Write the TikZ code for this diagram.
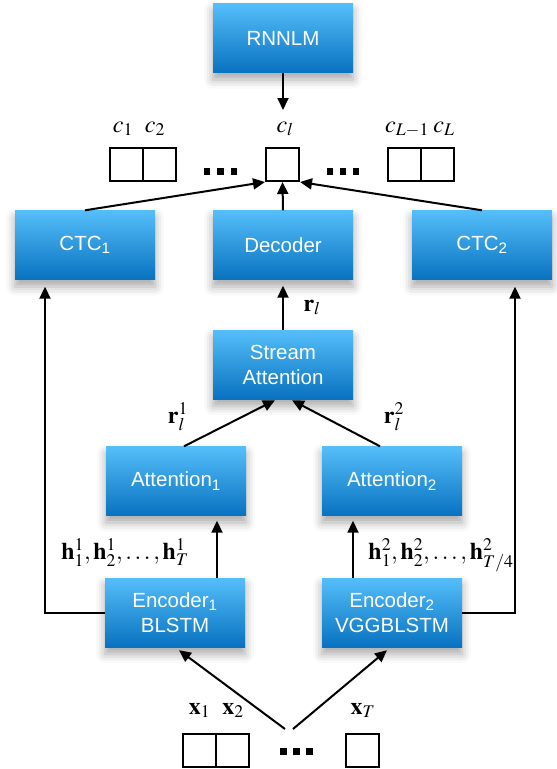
\documentclass[tikz,border=0pt]{standalone}
\usepackage{mathptmx}
\usepackage{fontspec}
\newfontfamily\boxfont{Liberation Sans}
\usetikzlibrary{arrows.meta,shadows.blur}
\definecolor{bluetop}{RGB}{85,190,250}
\definecolor{bluebot}{RGB}{8,114,192}
\begin{document}
\begin{tikzpicture}[x=1pt,y=-1pt,
  blk/.style={minimum width=140pt, minimum height=69pt, inner sep=0pt,
    top color=bluetop, bottom color=bluebot, draw=none, text=white,
    font=\boxfont\fontsize{20.5}{25}\selectfont, align=center,
    blur shadow={shadow xshift=0pt, shadow yshift=-7pt, shadow scale=1, shadow blur radius=9pt, shadow opacity=35}},
  cell/.style={draw=black, line width=2pt, minimum size=33pt, inner sep=0pt},
  lab/.style={font=\fontsize{24}{28}\selectfont, inner sep=0pt, anchor=base},
  arr/.style={line width=2pt, -{Triangle[length=12pt,width=11pt]}},
  ln/.style={line width=2pt},
  dotsq/.style={fill=black, minimum size=6.5pt, inner sep=0pt}
]
\useasboundingbox (0,0) rectangle (557,769);

% blocks
\node[blk] (rnnlm) at (283,38) {RNNLM};
\node[blk] (ctc1) at (85,245) {CTC\textsubscript{1}};
\node[blk] (dec) at (283,245) {Decoder};
\node[blk] (ctc2) at (482,245) {CTC\textsubscript{2}};
\node[blk] (stream) at (283,364.5) {Stream\\Attention};
\node[blk] (att1) at (176,481) {Attention\textsubscript{1}};
\node[blk] (att2) at (392,481) {Attention\textsubscript{2}};
\node[blk] (enc1) at (175,612.5) {Encoder\textsubscript{1}\\BLSTM};
\node[blk] (enc2) at (392,612.5) {Encoder\textsubscript{2}\\VGGBLSTM};

% output cells
\node[cell] (c1) at (126,164.5) {};
\node[cell] (c2) at (159,164.5) {};
\node[cell] (cl) at (282.5,164.5) {};
\node[cell] (cL1) at (404.5,164.5) {};
\node[cell] (cL) at (437.5,164.5) {};
\node[dotsq] (d1) at (207,171.5) {};
\node[dotsq] (d2) at (220.5,171.5) {};
\node[dotsq] (d3) at (234,171.5) {};
\node[dotsq] (d4) at (330,171.5) {};
\node[dotsq] (d5) at (343,171.5) {};
\node[dotsq] (d6) at (356,171.5) {};

% input cells
\node[cell] (x1c) at (199.5,750) {};
\node[cell] (x2c) at (232.5,750) {};
\node[cell] (xTc) at (362.5,750) {};
\node[dotsq] (d7) at (283.5,751.5) {};
\node[dotsq] (d8) at (296.5,751.5) {};
\node[dotsq] (d9) at (309.5,751.5) {};

% labels
\node[lab] (lc1) at (123,132) {$c_1$};
\node[lab] (lc2) at (155,132) {$c_2$};
\node[lab] (lcl) at (285,132) {$c_l$};
\node[lab] (lcL1) at (407,132) {$c_{L-1}$};
\node[lab] (lcL) at (444,132) {$c_L$};
\node[lab] (lrl) at (312,311) {$\mathbf{r}_l$};
\node[lab] (lr1) at (178,423) {$\mathbf{r}_l^1$};
\node[lab] (lr2) at (394,423) {$\mathbf{r}_l^2$};
\node[lab] (lh1) at (125,559) {$\mathbf{h}_1^1,\mathbf{h}_2^1,\ldots,\mathbf{h}_T^1$};
\node[lab] (lh2) at (441,559) {$\mathbf{h}_1^2,\mathbf{h}_2^2,\ldots,\mathbf{h}_{T/4}^2$};
\node[lab] (lx1) at (199.5,714) {$\mathbf{x}_1$};
\node[lab] (lx2) at (233,714) {$\mathbf{x}_2$};
\node[lab] (lxT) at (363,714) {$\mathbf{x}_T$};

% connectors
\coordinate (rn) at (283,110);
\draw[arr] (rnnlm.south) -- (rn);
\draw[arr] (ctc1.north) -- (cl.south west);
\draw[arr] (dec.north) -- (cl.south);
\draw[arr] (ctc2.north) -- (cl.south east);
\draw[arr] (stream.north) -- ([yshift=-6pt]dec.south);
\draw[arr] ([xshift=8pt]att1.north) -- ([xshift=-8pt,yshift=-1pt]stream.south);
\draw[arr] ([xshift=-12pt]att2.north) -- ([xshift=9pt,yshift=-1pt]stream.south);
\draw[arr] ([xshift=42pt]enc1.north) -- ([xshift=41pt,yshift=-5pt]att1.south);
\draw[arr] ([xshift=-39pt]enc2.north) -- ([xshift=-39pt,yshift=-5pt]att2.south);
\draw[arr] (enc1.west) -| ([xshift=-40pt,yshift=-7pt]ctc1.south);
\draw[arr] (enc2.east) -| ([xshift=33pt,yshift=-7pt]ctc2.south);
\coordinate (b1) at (285,729);
\coordinate (b2) at (293,729);
\draw[arr] (b1) -- ([xshift=4pt,yshift=-3pt]enc1.south);
\draw[arr] (b2) -- ([xshift=-5pt,yshift=-3pt]enc2.south);
\end{tikzpicture}
\end{document}
